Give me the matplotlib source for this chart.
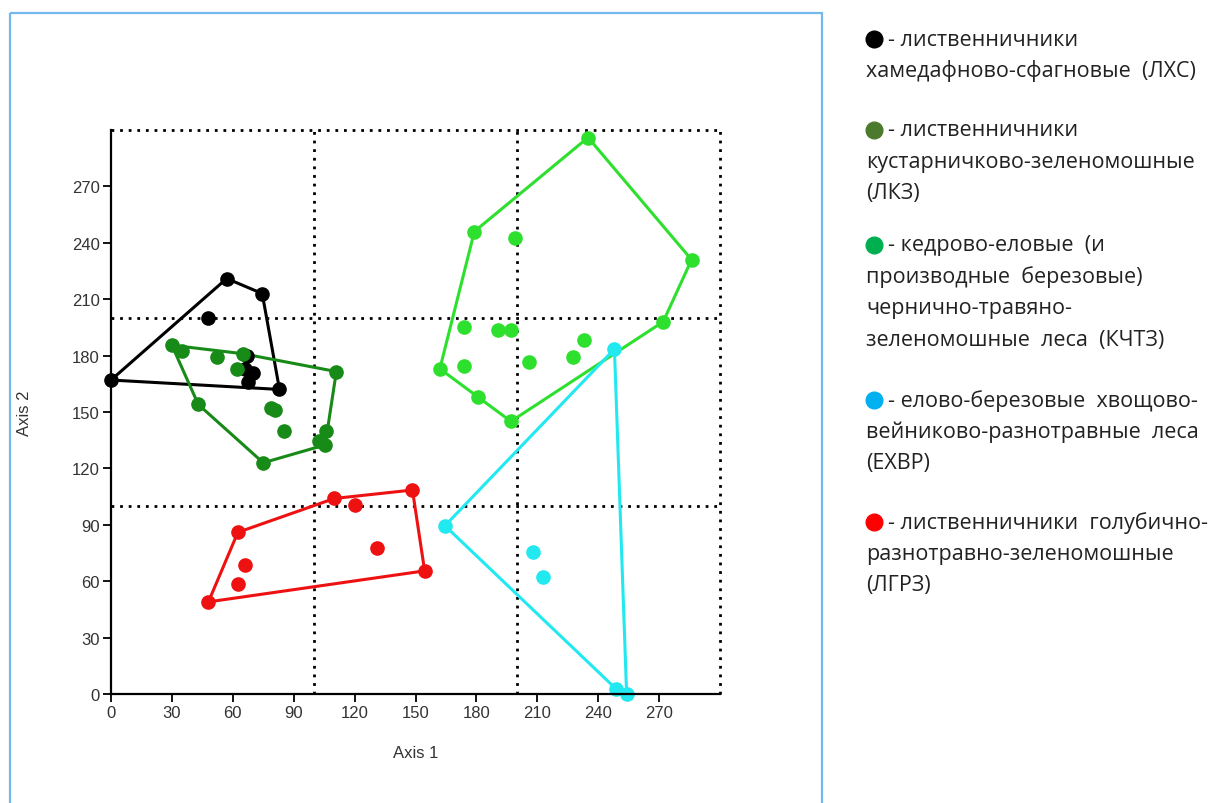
import numpy as np
import matplotlib
matplotlib.use("Agg")
import matplotlib.pyplot as plt
from matplotlib.patches import Rectangle

# ordination scores (Axis 1, Axis 2)
lxs_x = [0, 57, 74.5, 83, 48, 67, 66, 70, 67.5]
lxs_y = [167, 221, 213, 162, 200, 180, 173, 171, 166]

lkz_x = [30, 35, 52, 65, 62, 43, 75, 79, 81, 85, 102.5, 105.5, 106, 111]
lkz_y = [185.5, 182.5, 179, 181, 173, 154, 123, 152, 151, 140, 134.5, 132.5, 140, 171.5]

kchtz_x = [235, 286, 272, 197, 181, 162, 179, 199, 174, 190.5, 197, 174, 206, 227.5, 233]
kchtz_y = [296, 231, 198, 145, 158, 173, 246, 242.5, 195, 193.5, 193.5, 174.5, 176.5, 179.5, 188.5]

exvr_x = [248, 164.5, 249, 254, 208, 213]
exvr_y = [183.5, 89.5, 2.5, 0, 75.5, 62.5]

lgrz_x = [48, 62.5, 66, 62.5, 110, 120, 148.5, 131, 154.5]
lgrz_y = [49, 86, 68.5, 58.5, 104, 100.5, 108.5, 77.5, 65.5]

group_data = [(lxs_x, lxs_y), (lkz_x, lkz_y), (kchtz_x, kchtz_y),
              (exvr_x, exvr_y), (lgrz_x, lgrz_y)]
plot_colors = ["#000000", "#178a17", "#2ee02e", "#22e8f0", "#ee1111"]

ticks = list(range(0, 271, 30))
split_lines = [100, 200, 300]

legend_colors = ["#000000", "#4c7a2c", "#00b050", "#00b0f0", "#ff0000"]
legend_lines = [
    ["- лиственничники", "хамедафново-сфагновые  (ЛХС)"],
    ["- лиственничники", "кустарничково-зеленомошные", "(ЛКЗ)"],
    ["- кедрово-еловые  (и", "производные  березовые)", "чернично-травяно-",
     "зеленомошные  леса  (КЧТЗ)"],
    ["- елово-березовые  хвощово-", "вейниково-разнотравные  леса", "(ЕХВР)"],
    ["- лиственничники  голубично-", "разнотравно-зеленомошные", "(ЛГРЗ)"],
]
legend_top = [40, 131, 246, 401, 523]


def convex_hull(xs, ys):
    pts = sorted(set(zip(xs, ys)))

    def cross(o, a, b):
        return (a[0] - o[0]) * (b[1] - o[1]) - (a[1] - o[1]) * (b[0] - o[0])

    lower, upper = [], []
    for p in pts:
        while len(lower) >= 2 and cross(lower[-2], lower[-1], p) <= 0:
            lower.pop()
        lower.append(p)
    for p in reversed(pts):
        while len(upper) >= 2 and cross(upper[-2], upper[-1], p) <= 0:
            upper.pop()
        upper.append(p)
    hull = lower[:-1] + upper[:-1]
    hull.append(hull[0])
    return np.array(hull)


W, H = 1211, 804
fig = plt.figure(figsize=(W / 100, H / 100), dpi=100)

# page layer: border frame + text legend
bg = fig.add_axes([0, 0, 1, 1], zorder=0)
bg.set_xlim(0, W)
bg.set_ylim(H, 0)
bg.axis("off")
bg.add_patch(Rectangle((10, 14), 812, 820, fill=False, ec="#74b9ee", lw=1.6))

for c, lines, y0 in zip(legend_colors, legend_lines, legend_top):
    bg.plot(874, y0, "o", ms=12, color=c)
    for i, line in enumerate(lines):
        x = 888 if i == 0 else 866
        bg.text(x, y0 + i * 31.5, line, fontsize=15.5, family="Open Sans",
                color="#222222", va="center", ha="left")

# ordination plot
ax = fig.add_axes([111 / W, 1 - 695 / H, 609 / W, 564 / H], zorder=1)
ax.set_facecolor("none")
ax.set_xlim(0, 300)
ax.set_ylim(0, 300)

for v in split_lines:
    ax.plot([v, v], [0, 300], color="black", lw=2, ls=(0, (1, 2.1)), zorder=1,
            clip_on=False)
    ax.plot([0, 300], [v, v], color="black", lw=2, ls=(0, (1, 2.1)), zorder=1,
            clip_on=False)

for (gx, gy), c in zip(group_data, plot_colors):
    hull = convex_hull(gx, gy)
    ax.plot(hull[:, 0], hull[:, 1], color=c, lw=2.2, zorder=3, clip_on=False)
    ax.plot(gx, gy, "o", ms=9.5, color=c, mec=c, zorder=4, clip_on=False)

for s in ["top", "right"]:
    ax.spines[s].set_visible(False)
for s in ["left", "bottom"]:
    ax.spines[s].set_linewidth(1.6)
    ax.spines[s].set_zorder(5)

ax.set_xticks(ticks)
ax.set_yticks(ticks)
ax.tick_params(direction="out", length=6, width=1.3, colors="black",
               labelcolor="#333333", labelsize=12, pad=2)
for lab in ax.get_xticklabels() + ax.get_yticklabels():
    lab.set_family("Liberation Sans")

ax.set_xlabel("Axis 1", fontsize=12, family="Liberation Sans", color="#333333")
ax.set_ylabel("Axis 2", fontsize=12, family="Liberation Sans", color="#333333")
ax.xaxis.set_label_coords(0.5, -0.09)
ax.yaxis.set_label_coords(-0.13, 0.5)

fig.savefig("out.png", dpi=100)
